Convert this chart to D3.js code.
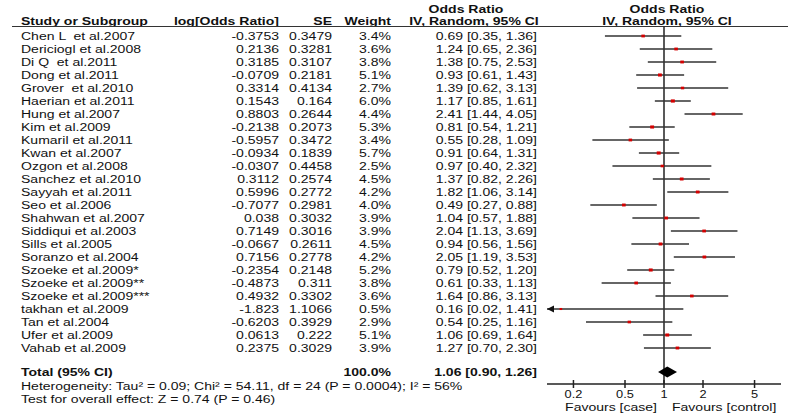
<!DOCTYPE html>
<html><head><meta charset="utf-8">
<script src="https://cdn.jsdelivr.net/npm/d3@7"></script>
<style>body{margin:0;background:#fff}svg{display:block}text{font-family:"Liberation Sans",Arial,sans-serif;font-size:11.5px;fill:#111;white-space:pre}</style>
</head><body><svg id="c" width="800" height="418"></svg>
<script>
const studies = ["Chen L  et al.2007","Dericiogl et al.2008","Di Q  et al.2011","Dong et al.2011","Grover  et al.2010","Haerian et al.2011","Hung et al.2007","Kim et al.2009","Kumaril et al.2011","Kwan et al.2007","Ozgon et al.2008","Sanchez et al.2010","Sayyah et al.2011","Seo et al.2006","Shahwan et al.2007","Siddiqui et al.2003","Sills et al.2005","Soranzo et al.2004","Szoeke et al.2009*","Szoeke et al.2009**","Szoeke et al.2009***","takhan et al.2009","Tan et al.2004","Ufer et al.2009","Vahab et al.2009"];
const logOR = [-0.3753,0.2136,0.3185,-0.0709,0.3314,0.1543,0.8803,-0.2138,-0.5957,-0.0934,-0.0307,0.3112,0.5996,-0.7077,0.038,0.7149,-0.0667,0.7156,-0.2354,-0.4873,0.4932,-1.823,-0.6203,0.0613,0.2375];
const se = [0.3479,0.3281,0.3107,0.2181,0.4134,0.164,0.2644,0.2073,0.3472,0.1839,0.4458,0.2574,0.2772,0.2981,0.3032,0.3016,0.2611,0.2778,0.2148,0.311,0.3302,1.1066,0.3929,0.222,0.3029];
const weight = [3.4,3.6,3.8,5.1,2.7,6.0,4.4,5.3,3.4,5.7,2.5,4.5,4.2,4.0,3.9,3.9,4.5,4.2,5.2,3.8,3.6,0.5,2.9,5.1,3.9];
const orVal = [0.69,1.24,1.38,0.93,1.39,1.17,2.41,0.81,0.55,0.91,0.97,1.37,1.82,0.49,1.04,2.04,0.94,2.05,0.79,0.61,1.64,0.16,0.54,1.06,1.27];
const ciLo = [0.35,0.65,0.75,0.61,0.62,0.85,1.44,0.54,0.28,0.64,0.40,0.82,1.06,0.27,0.57,1.13,0.56,1.19,0.52,0.33,0.86,0.02,0.25,0.69,0.70];
const ciHi = [1.36,2.36,2.53,1.43,3.13,1.61,4.05,1.21,1.09,1.31,2.32,2.26,3.14,0.88,1.88,3.69,1.56,3.53,1.20,1.13,3.13,1.41,1.16,1.64,2.30];
const totalOR = 1.06, totalLo = 0.90, totalHi = 1.26;
const tickVals = [0.2,0.5,1,2,5];
const tickLabels = ["0.2","0.5","1","2","5"];

const svg = d3.select("#c");
const SX = 1.22;
function txt(x, y, s, anchor, bold, size) {
  const t = svg.append("text")
    .attr("transform", `translate(${x},${y}) scale(${SX},1)`)
    .attr("text-anchor", anchor || "start")
    .style("font-weight", bold ? "bold" : "normal")
    .text(s);
  if (size) t.style("font-size", size + "px");
  return t;
}
const y = d3.scalePoint().domain(d3.range(studies.length)).range([36, 348]);
const x = d3.scaleLog().domain([0.125, 8]).range([547, 781]);
const sz = d3.scaleSqrt().domain([0, 6]).range([2, 4]);
const fmt = d3.format(".2f");

// headers
txt(466, 13, "Odds Ratio", "middle", true);
txt(667, 13, "Odds Ratio", "middle", true);
txt(21, 25, "Study or Subgroup", "start", true);
txt(279, 25, "log[Odds Ratio]", "end", true);
txt(332, 25, "SE", "end", true);
txt(391, 25, "Weight", "end", true);
txt(474, 25, "IV, Random, 95% CI", "middle", true);
txt(667, 25, "IV, Random, 95% CI", "middle", true);
svg.append("line").attr("x1", 12).attr("x2", 788).attr("y1", 26.5).attr("y2", 26.5)
  .attr("stroke", "#333").attr("stroke-width", 1.2);

// rows
studies.forEach((s, i) => {
  const yy = y(i) + 4;
  txt(21, yy, s, "start");
  txt(279, yy, String(logOR[i]), "end");
  txt(332, yy, String(se[i]), "end");
  txt(391, yy, weight[i].toFixed(1) + "%", "end");
  txt(537, yy, `${fmt(orVal[i])} [${fmt(ciLo[i])}, ${fmt(ciHi[i])}]`, "end");
});

// null line
svg.append("line").attr("x1", x(1)).attr("x2", x(1)).attr("y1", 26.5).attr("y2", 384)
  .attr("stroke", "#222").attr("stroke-width", 1.5);

// CIs
const [dmin, dmax] = x.domain();
studies.forEach((s, i) => {
  const yy = y(i);
  const lo = Math.max(ciLo[i], dmin), hi = Math.min(ciHi[i], dmax);
  svg.append("line").attr("x1", x(lo)).attr("x2", x(hi)).attr("y1", yy).attr("y2", yy)
    .attr("stroke", "#333").attr("stroke-width", 1.4);
  if (ciLo[i] < dmin) {
    const ax = x(dmin);
    svg.append("path").attr("d", `M${ax},${yy} L${ax + 7},${yy - 3.5} L${ax + 7},${yy + 3.5} Z`).attr("fill", "#111");
  }
  if (ciHi[i] > dmax) {
    const ax = x(dmax);
    svg.append("path").attr("d", `M${ax},${yy} L${ax - 7},${yy - 3.5} L${ax - 7},${yy + 3.5} Z`).attr("fill", "#111");
  }
  const w = sz(weight[i]);
  svg.append("rect").attr("x", x(orVal[i]) - w / 2).attr("y", yy - w * 0.4).attr("width", w).attr("height", w * 0.8)
    .attr("fill", "#d40000");
});

// total
const ty = 372;
txt(21, ty + 4, "Total (95% CI)", "start", true);
txt(391, ty + 4, "100.0%", "end", true);
txt(537, ty + 4, `${fmt(totalOR)} [${fmt(totalLo)}, ${fmt(totalHi)}]`, "end", true);
svg.append("path").attr("d", `M${x(totalLo)},${ty} L${x(totalOR)},${ty - 5.5} L${x(totalHi)},${ty} L${x(totalOR)},${ty + 5.5} Z`)
  .attr("fill", "#000");
txt(21, 390, "Heterogeneity: Tau² = 0.09; Chi² = 54.11, df = 24 (P = 0.0004); I² = 56%", "start");
txt(21, 403, "Test for overall effect: Z = 0.74 (P = 0.46)", "start");

// axis
const axisY = 384;
const axis = d3.axisBottom(x).tickValues(tickVals).tickFormat((d, i) => tickLabels[i]).tickSize(0).tickPadding(0);
const ag = svg.append("g").attr("transform", `translate(0,${axisY})`).call(axis);
ag.select(".domain").remove();
ag.selectAll("text").remove();
svg.append("line").attr("x1", x(dmin)).attr("x2", x(dmax)).attr("y1", axisY).attr("y2", axisY)
  .attr("stroke", "#222").attr("stroke-width", 1.3);
tickVals.forEach((v, i) => {
  svg.append("line").attr("x1", x(v)).attr("x2", x(v)).attr("y1", axisY - 4).attr("y2", axisY + 4)
    .attr("stroke", "#222").attr("stroke-width", 1.5);
  txt(x(v), axisY + 13.5, tickLabels[i], "middle", false, 10.5);
});
txt(657, 410.5, "Favours [case]", "end");
txt(672, 410.5, "Favours [control]", "start");
</script></body></html>
